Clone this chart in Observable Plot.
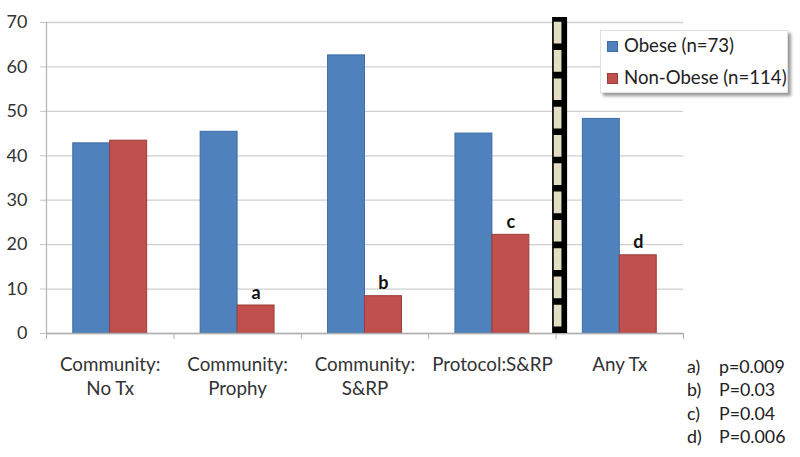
<!DOCTYPE html>
<html><head><meta charset="utf-8">
<script src="https://cdn.jsdelivr.net/npm/d3@7"></script>
<script src="https://cdn.jsdelivr.net/npm/@observablehq/plot@0.6"></script>
<style>
body{margin:0;background:#fff;font-family:Lato,"Open Sans",sans-serif;color:#222;}
#wrap{position:relative;width:800px;height:457px;overflow:hidden;}
.legend{position:absolute;left:600px;top:30px;width:186px;height:61px;border:1px solid #e2e2e2;box-shadow:3px 3px 3px #9a9a9a;background:#fff;font-size:18.6px;}
.legend .item{position:absolute;left:6px;height:22px;line-height:22px;white-space:nowrap;}
.legend .sw{display:inline-block;width:11px;height:11px;margin-right:6px;vertical-align:0px;box-sizing:border-box;}
.notes{position:absolute;left:687px;top:355px;font-size:17.8px;line-height:23.4px;}
.notes .lt{display:inline-block;width:32px;}
</style></head><body><div id="wrap"></div>
<script>
// ---- data ----
const categories = ["Community:\nNo Tx", "Community:\nProphy", "Community:\nS&RP", "Protocol:S&RP", "Any Tx"];
const series = ["Obese (n=73)", "Non-Obese (n=114)"];
const obese = [42.8, 45.4, 62.6, 45.0, 48.3];
const nonObese = [43.4, 6.3, 8.4, 22.2, 17.6];
const sigLetters = ["", "a", "b", "c", "d"];
const yTicks = [0, 10, 20, 30, 40, 50, 60, 70];
const noteLetters = ["a)", "b)", "c)", "d)"];
const noteValues = ["p=0.009", "P=0.03", "P=0.04", "P=0.006"];
const separatorBefore = "Any Tx";

// ---- style ----
const colors = ["#4F81BD", "#C0504D"];
const strokes = ["#3d6ea8", "#9c3c39"];
const barW = 0.29;

const rows = [];
categories.forEach((c, i) => {
  rows.push({i, cat: c, s: series[0], k: 0, v: obese[i], letter: ""});
  rows.push({i, cat: c, s: series[1], k: 1, v: nonObese[i], letter: sigLetters[i]});
});
const boundaries = d3.range(categories.length + 1).map(i => i - 0.5);
const sepX = categories.indexOf(separatorBefore) - 0.5;

const plot = Plot.plot({
  width: 800, height: 457,
  marginLeft: 46, marginRight: 117, marginTop: 22, marginBottom: 124,
  style: {fontFamily: "Lato, 'Open Sans', sans-serif", background: "#fff"},
  x: {type: "linear", domain: [-0.5, categories.length - 0.5]},
  y: {domain: [0, 70]},
  color: {domain: series, range: colors},
  marks: [
    Plot.gridY(yTicks, {stroke: "#cfcfcf", strokeOpacity: 1, strokeWidth: 1.3}),
    Plot.axisY(yTicks, {tickSize: 6, tickPadding: 13, fontSize: 18, stroke: "#c4c4c4", color: "#333", label: null}),
    Plot.ruleX([-0.5], {y1: 0, y2: 70, stroke: "#b8b8b8", strokeWidth: 1.3}),
    Plot.axisX(boundaries, {tickSize: 6, tickFormat: () => "", stroke: "#b0b0b0", label: null}),
    Plot.rectY(rows, {
      x1: d => d.i - barW + d.k * barW, x2: d => d.i + d.k * barW,
      y: "v", fill: "s", stroke: d => strokes[d.k], strokeWidth: 1
    }),
    Plot.ruleY([0], {stroke: "#b0b0b0", strokeWidth: 1.3}),
    Plot.ruleX([sepX], {y1: 0, y2: 71.1, stroke: "#000", strokeWidth: 15, dx: 3.5}),
    Plot.ruleX([sepX], {y1: 71.1, y2: 0, stroke: "#e3ddc4", strokeWidth: 7.7, dx: 1.5,
      strokeDasharray: "21.7,6.6", strokeDashoffset: 23.6}),
    Plot.text(rows.filter(d => d.letter), {
      x: d => d.i + barW / 2, y: "v", text: "letter", dy: -7, lineAnchor: "bottom",
      fontWeight: "bold", fontSize: 18, fill: "#111"
    }),
    Plot.text(categories, {
      x: (d, i) => i, frameAnchor: "bottom", lineAnchor: "top", dy: 20,
      fontSize: 18.8, lineHeight: 1.3, fill: "#333", text: d => d
    })
  ]
});

const wrap = document.getElementById("wrap");
wrap.appendChild(plot);

const legend = document.createElement("div");
legend.className = "legend";
series.forEach((s, k) => {
  const it = document.createElement("div");
  it.className = "item";
  it.style.top = (3 + k * 32) + "px";
  const sw = document.createElement("span");
  sw.className = "sw";
  sw.style.background = colors[k];
  sw.style.border = "1px solid " + strokes[k];
  it.appendChild(sw);
  it.appendChild(document.createTextNode(s));
  legend.appendChild(it);
});
wrap.appendChild(legend);

const notes = document.createElement("div");
notes.className = "notes";
noteLetters.forEach((l, j) => {
  const line = document.createElement("div");
  const a = document.createElement("span");
  a.className = "lt"; a.textContent = l;
  line.appendChild(a);
  line.appendChild(document.createTextNode(noteValues[j]));
  notes.appendChild(line);
});
wrap.appendChild(notes);
</script>
</body></html>
